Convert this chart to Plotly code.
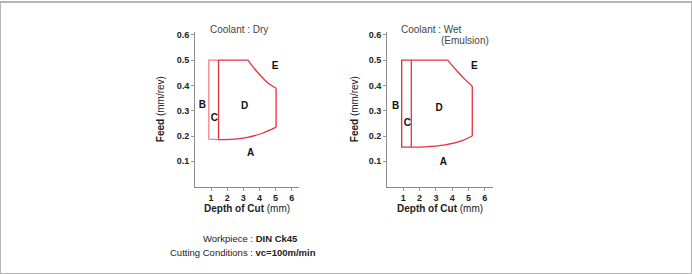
import plotly.graph_objects as go

# ---- data ----
ticks_x = [1, 2, 3, 4, 5, 6]
ticks_y = [0.1, 0.2, 0.3, 0.4, 0.5, 0.6]
tick_y_labels = ["0.1", "0.2", "0.3", "0.4", "0.5", "0.6"]

# Dry
dry_B_x = [1.46, 0.86, 0.86, 1.46]
dry_B_y = [0.186, 0.188, 0.5, 0.5]
dry_C_x = [1.46, 1.46]
dry_C_y = [0.186, 0.5]
dry_top_x = [1.46, 3.29]
dry_top_y = [0.5, 0.5]
dry_E_x = [3.29, 3.70, 4.12, 4.52, 5.03]
dry_E_y = [0.5, 0.465, 0.435, 0.410, 0.389]
dry_R_x = [5.03, 5.03]
dry_R_y = [0.389, 0.235]
dry_bot_x = [5.03, 4.22, 3.19, 2.16, 1.46]
dry_bot_y = [0.235, 0.212, 0.194, 0.187, 0.186]
dry_lbl = ["A", "B", "C", "D", "E"]
dry_lbl_x = [3.45, 0.46, 1.2, 3.08, 4.97]
dry_lbl_y = [0.13, 0.322, 0.27, 0.318, 0.475]

# Wet
wet_B_x = [1.49, 0.9, 0.9, 1.49]
wet_B_y = [0.156, 0.156, 0.5, 0.5]
wet_C_x = [1.49, 1.49]
wet_C_y = [0.156, 0.5]
wet_top_x = [1.49, 3.72]
wet_top_y = [0.5, 0.5]
wet_E_x = [3.72, 4.28, 4.79, 5.23]
wet_E_y = [0.5, 0.458, 0.423, 0.397]
wet_R_x = [5.23, 5.23]
wet_R_y = [0.397, 0.2]
wet_bot_x = [5.23, 4.58, 3.56, 2.33, 1.49]
wet_bot_y = [0.2, 0.181, 0.165, 0.157, 0.156]
wet_lbl = ["A", "B", "C", "D", "E"]
wet_lbl_x = [3.45, 0.53, 1.25, 3.19, 5.36]
wet_lbl_y = [0.097, 0.318, 0.25, 0.307, 0.473]

RED = "#e4303e"
PINK = "#f07d88"
FONT = "Liberation Sans, Arial, sans-serif"

fig = go.Figure()

def seg(x, y, xa, ya, color=RED, spline=False):
    fig.add_trace(go.Scatter(x=x, y=y, mode="lines", xaxis=xa, yaxis=ya,
                             line=dict(color=color, width=1.3,
                                       shape="spline" if spline else "linear"),
                             hoverinfo="skip", showlegend=False))

seg(dry_B_x, dry_B_y, "x", "y", PINK)
seg(dry_C_x, dry_C_y, "x", "y")
seg(dry_top_x, dry_top_y, "x", "y")
seg(dry_E_x, dry_E_y, "x", "y", spline=True)
seg(dry_R_x, dry_R_y, "x", "y")
seg(dry_bot_x, dry_bot_y, "x", "y", spline=True)

seg(wet_B_x, wet_B_y, "x2", "y2")
seg(wet_C_x, wet_C_y, "x2", "y2")
seg(wet_top_x, wet_top_y, "x2", "y2")
seg(wet_E_x, wet_E_y, "x2", "y2", spline=True)
seg(wet_R_x, wet_R_y, "x2", "y2")
seg(wet_bot_x, wet_bot_y, "x2", "y2", spline=True)

fig.add_trace(go.Scatter(x=dry_lbl_x, y=dry_lbl_y, text=dry_lbl, mode="text",
                         textfont=dict(family=FONT, size=10, color="#111"),
                         textposition="middle center", xaxis="x", yaxis="y",
                         hoverinfo="skip", showlegend=False,
                         texttemplate="<b>%{text}</b>"))
fig.add_trace(go.Scatter(x=wet_lbl_x, y=wet_lbl_y, text=wet_lbl, mode="text",
                         textfont=dict(family=FONT, size=10, color="#111"),
                         textposition="middle center", xaxis="x2", yaxis="y2",
                         hoverinfo="skip", showlegend=False,
                         texttemplate="<b>%{text}</b>"))

W, H = 692, 274

def px(x):
    return x / W

def py(y):
    return 1 - y / H

axis_common = dict(showgrid=False, zeroline=False, showline=True, linecolor="#8a8a8a",
                   linewidth=1, ticks="outside", ticklen=3, tickcolor="#9a9a9a",
                   tickfont=dict(family=FONT, size=9, color="#222", weight="bold"))

fig.update_layout(
    width=W, height=H, margin=dict(l=0, r=0, t=0, b=0),
    paper_bgcolor="white", plot_bgcolor="white", showlegend=False,
    xaxis=dict(domain=[px(195), px(299)], range=[0, 6.45], tickvals=ticks_x,
               anchor="y", **axis_common),
    yaxis=dict(domain=[py(186), py(30)], range=[0, 0.612], tickvals=ticks_y,
               ticktext=tick_y_labels, anchor="x", **axis_common),
    xaxis2=dict(domain=[px(387), px(493)], range=[0, 6.5], tickvals=ticks_x,
                anchor="y2", **axis_common),
    yaxis2=dict(domain=[py(186), py(30)], range=[0, 0.612], tickvals=ticks_y,
                ticktext=tick_y_labels, anchor="x2", **axis_common),
)

def ann(text, x, y, size=10, xanchor="center", angle=0, color="#222"):
    fig.add_annotation(text=text, x=px(x), y=py(y), xref="paper", yref="paper",
                       showarrow=False, xanchor=xanchor, yanchor="middle",
                       textangle=angle, font=dict(family=FONT, size=size, color=color))

ann("<b>Feed</b> (mm/rev)", 160, 108, angle=-90)
ann("<b>Feed</b> (mm/rev)", 354, 108, angle=-90)
ann("<b>Depth of Cut</b> (mm)", 247, 208)
ann("<b>Depth of Cut</b> (mm)", 440, 208)
ann("Coolant : Dry", 208, 28, xanchor="left", color="#444")
ann("Coolant : Wet", 399, 28, xanchor="left", color="#444")
ann("(Emulsion)", 439, 39, xanchor="left", color="#444")
ann("Workpiece : <b>DIN Ck45</b>", 250, 238, size=9.5)
ann("Cutting Conditions : <b>vc=100m/min</b>", 243, 252, size=9.5)

fig.add_shape(type="rect", xref="paper", yref="paper", x0=0, y0=0, x1=1, y1=1,
              line=dict(color="#b5b5b5", width=2))

fig.write_html("out.html")
